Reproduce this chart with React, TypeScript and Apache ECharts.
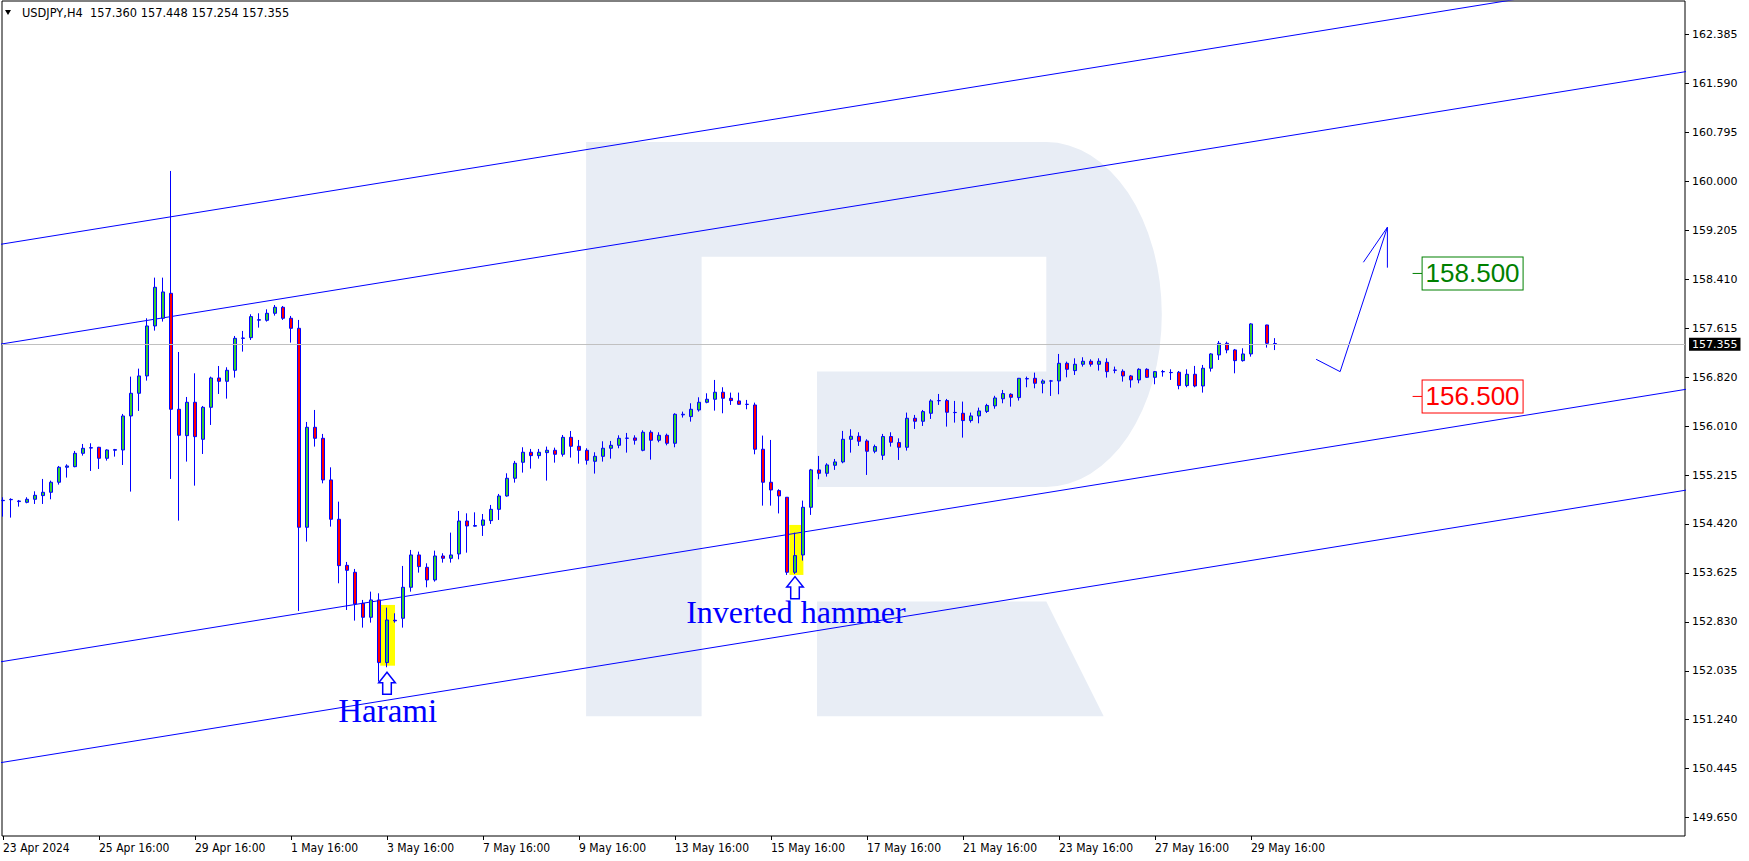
import React, { useEffect, useRef } from "react";
import * as echarts from "echarts";

// ---------------- data ----------------
const symbolName = "USDJPY,H4";
const titleValues = ["157.360", "157.448", "157.254", "157.355"];
const lastPrice = 157.355;

// H4 bars, index 0 = 23 Apr 2024 16:00 (bar 157 is absent in the picture)
const opens = [
  154.805, 154.820, 154.800, 154.778, 154.827, 154.887, 154.941, 155.104, 155.348, 155.358,
  155.575, 155.660, 155.673, 155.494, 155.625, 155.629, 156.182, 156.551, 156.833, 157.646,
  157.771, 158.177, 156.291, 155.862, 156.405, 155.803, 156.323, 156.800, 156.746, 156.925,
  157.445, 157.456, 157.740, 157.738, 157.852, 157.950, 157.771, 157.608, 154.372, 155.998,
  155.819, 155.142, 154.502, 153.753, 153.640, 153.135, 152.908, 153.190, 152.171, 152.860,
  152.892, 153.396, 153.922, 153.721, 153.515, 153.905, 153.867, 153.938, 154.474, 154.390,
  154.404, 154.480, 154.664, 154.881, 155.169, 155.429, 155.592, 155.537, 155.586, 155.624,
  155.559, 155.835, 155.689, 155.624, 155.445, 155.526, 155.657, 155.705, 155.819, 155.825,
  155.624, 155.917, 155.787, 155.868, 155.738, 156.200, 156.172, 156.280, 156.405, 156.454,
  156.568, 156.470, 156.427, 156.370, 156.361, 155.641, 155.104, 154.968, 154.860, 153.640,
  153.922, 154.697, 155.305, 155.250, 155.380, 155.435, 155.803, 155.852, 155.776, 155.608,
  155.543, 155.847, 155.749, 155.673, 156.145, 156.096, 156.226, 156.430, 156.432, 156.240,
  156.226, 156.107, 156.183, 156.256, 156.346, 156.462, 156.535, 156.481, 156.785, 156.795,
  156.714, 156.752, 156.752, 157.039, 156.920, 157.023, 157.072, 157.023, 157.055, 156.930,
  156.909, 156.833, 156.768, 156.941, 156.811, 156.900, 156.890, 156.893, 156.676, 156.860,
  156.670, 156.958, 157.175, 157.364, 157.256, 157.082, 157.191, null, 157.662, 157.360,
];
const closes = [
  154.810, 154.825, 154.790, 154.827, 154.892, 154.941, 155.104, 155.348, 155.369, 155.575,
  155.656, 155.667, 155.494, 155.629, 155.635, 156.182, 156.551, 156.833, 157.646, 158.275,
  158.199, 156.291, 155.868, 156.405, 155.846, 156.323, 156.800, 156.746, 156.925, 157.445,
  157.450, 157.798, 157.748, 157.852, 157.950, 157.771, 157.608, 154.372, 155.998, 155.819,
  155.142, 154.502, 153.748, 153.672, 153.125, 152.908, 153.190, 152.171, 152.864, 152.850,
  153.396, 153.922, 153.732, 153.515, 153.905, 153.867, 153.922, 154.474, 154.393, 154.400,
  154.491, 154.664, 154.881, 155.169, 155.413, 155.592, 155.537, 155.592, 155.624, 155.559,
  155.835, 155.689, 155.624, 155.461, 155.526, 155.657, 155.705, 155.819, 155.822, 155.787,
  155.917, 155.787, 155.868, 155.738, 156.210, 156.210, 156.291, 156.405, 156.454, 156.568,
  156.470, 156.432, 156.372, 156.372, 155.641, 155.104, 154.979, 154.882, 153.640, 153.911,
  154.697, 155.305, 155.250, 155.386, 155.435, 155.803, 155.852, 155.771, 155.608, 155.684,
  155.847, 155.754, 155.673, 156.145, 156.096, 156.253, 156.427, 156.432, 156.242, 156.237,
  156.107, 156.183, 156.264, 156.353, 156.475, 156.546, 156.486, 156.795, 156.790, 156.714,
  156.752, 156.750, 157.039, 156.941, 157.023, 157.072, 157.023, 157.072, 156.903, 156.925,
  156.833, 156.768, 156.941, 156.811, 156.903, 156.905, 156.887, 156.676, 156.860, 156.670,
  156.958, 157.191, 157.364, 157.256, 157.082, 157.191, 157.679, null, 157.364, 157.355,
];
const lows = [
  154.545, 154.529, 154.708, 154.762, 154.751, 154.751, 154.827, 155.066, 155.180, 155.348,
  155.537, 155.288, 155.320, 155.456, 155.521, 155.385, 154.952, 156.264, 156.757, 157.570,
  157.717, 155.158, 154.480, 155.440, 155.049, 155.564, 156.036, 156.540, 156.464, 156.806,
  157.229, 157.418, 157.619, 157.717, 157.814, 157.744, 157.375, 153.011, 154.139, 155.684,
  155.087, 154.383, 153.461, 153.027, 152.854, 152.740, 152.821, 151.862, 152.095, 152.821,
  152.740, 153.325, 153.634, 153.396, 153.488, 153.797, 153.797, 153.851, 153.959, 154.382,
  154.231, 154.426, 154.491, 154.870, 155.098, 155.261, 155.326, 155.488, 155.131, 155.423,
  155.521, 155.505, 155.407, 155.391, 155.245, 155.440, 155.488, 155.657, 155.586, 155.716,
  155.608, 155.472, 155.754, 155.705, 155.673, 156.156, 156.090, 156.253, 156.389, 156.269,
  156.226, 156.362, 156.362, 156.291, 155.559, 154.724, 154.724, 154.597, 153.597, 153.613,
  153.830, 154.573, 155.153, 155.196, 155.305, 155.413, 155.586, 155.695, 155.223, 155.576,
  155.467, 155.684, 155.467, 155.619, 155.971, 156.020, 156.134, 156.362, 156.009, 156.074,
  155.830, 156.074, 156.063, 156.230, 156.300, 156.389, 156.334, 156.432, 156.649, 156.632,
  156.551, 156.508, 156.535, 156.811, 156.849, 156.985, 156.985, 156.920, 156.806, 156.876,
  156.741, 156.643, 156.714, 156.800, 156.698, 156.822, 156.768, 156.616, 156.649, 156.649,
  156.562, 156.904, 157.093, 157.202, 156.876, 157.066, 157.147, null, 157.294, 157.254,
];
const highs = [
  154.860, 154.843, 154.816, 154.860, 154.957, 155.158, 155.131, 155.369, 155.396, 155.613,
  155.727, 155.738, 155.680, 155.640, 155.646, 156.215, 156.822, 156.952, 157.771, 158.432,
  158.432, 160.167, 157.223, 156.491, 156.876, 156.345, 156.822, 156.995, 156.974, 157.483,
  157.565, 157.836, 157.852, 157.917, 157.987, 157.971, 157.809, 157.744, 156.085, 156.280,
  155.890, 155.347, 154.789, 153.808, 153.694, 153.190, 153.325, 153.298, 153.065, 152.973,
  153.743, 154.003, 153.976, 153.786, 153.992, 153.949, 154.285, 154.637, 154.599, 154.615,
  154.588, 154.735, 154.914, 155.250, 155.451, 155.673, 155.646, 155.646, 155.684, 155.667,
  155.873, 155.938, 155.792, 155.657, 155.592, 155.770, 155.776, 155.868, 155.906, 155.868,
  155.949, 155.949, 155.917, 155.895, 156.226, 156.253, 156.389, 156.486, 156.551, 156.768,
  156.649, 156.562, 156.562, 156.443, 156.399, 155.863, 155.792, 154.990, 154.862, 154.285,
  154.806, 155.321, 155.532, 155.413, 155.483, 155.939, 155.966, 155.917, 155.803, 155.716,
  155.890, 155.917, 155.819, 156.237, 156.199, 156.280, 156.454, 156.540, 156.459, 156.427,
  156.416, 156.237, 156.318, 156.380, 156.510, 156.605, 156.551, 156.800, 156.822, 156.887,
  156.779, 156.768, 157.191, 157.066, 157.120, 157.137, 157.104, 157.120, 157.120, 156.985,
  156.941, 156.849, 156.958, 156.958, 156.914, 156.931, 156.941, 156.914, 156.941, 156.996,
  157.012, 157.202, 157.402, 157.391, 157.272, 157.283, 157.690, null, 157.665, 157.448,
];

const xTickLabels = [
  "23 Apr 2024", "25 Apr 16:00", "29 Apr 16:00", "1 May 16:00", "3 May 16:00",
  "7 May 16:00", "9 May 16:00", "13 May 16:00", "15 May 16:00", "17 May 16:00",
  "21 May 16:00", "23 May 16:00", "27 May 16:00", "29 May 16:00",
];
const barsPerTick = 12;

const yTickLabels = [
  "162.385", "161.590", "160.795", "160.000", "159.205", "158.410", "157.615", "156.820",
  "156.010", "155.215", "154.420", "153.625", "152.830", "152.035", "151.240", "150.445", "149.650",
];
const yTopTick = 162.385;
const yBottomTick = 149.65;
const yMax = 162.931;
const yMin = 149.351;
const xMin = -0.125;
const xMax = 210.25;

// channel lines: [barIndex, price] end points
const channelLines = [
  [[-1, 158.959], [211, 163.419]],
  [[-1, 157.336], [211, 161.796]],
  [[-1, 152.169], [211, 156.629]],
  [[-1, 150.529], [211, 154.989]],
];
const forecastPath = [[164.14, 157.104], [167.14, 156.903], [173.05, 159.251]];
const forecastHead = [[170.05, 158.682], [173.05, 159.251], [173.05, 158.594]];

const levels = [
  { price: 158.5, label: "158.500", color: "#008000" },
  { price: 156.5, label: "156.500", color: "#FF0000" },
];
const levelBar = 176.2;

const patterns = [
  { name: "Harami", x0: 47.15, x1: 49.0, low: 152.121, high: 153.109, arrowBar: 48, arrowPrice: 152.014, textBar: 41.9, textPrice: 151.381, fontSize: 33 },
  { name: "Inverted hammer", x0: 98.3, x1: 100.05, low: 153.597, high: 154.41, arrowBar: 99, arrowPrice: 153.569, textBar: 85.4, textPrice: 152.987, fontSize: 32 },
];

// ---------------- watermark shape ----------------
const LOGO_PATH =
  "M586.1 142.1 H1046.3 A115.5 172.4 0 0 1 1046.3 486.9 H817 V371.5 H1046.3 V256.8 H701.6 V716.3 H586.1 Z " +
  "M817 601.6 H1046.3 L1103.7 716.3 H817 Z";
echarts.graphic.registerShape("logo", echarts.graphic.extendPath(LOGO_PATH, {}));

const AXIS_FONT = '"DejaVu Sans", sans-serif';
const X_FONT = '"DejaVu Sans Condensed", "Liberation Sans Narrow", sans-serif';

function buildOption() {
  const yStep = (yTopTick - yBottomTick) / (yTickLabels.length - 1);
  const yTicks = yTickLabels.map((_, k) => +(yTopTick - k * yStep).toFixed(6));
  const xTicks = xTickLabels.map((_, k) => k * barsPerTick);

  const candleData = opens
    .map((o, i) => (o == null ? null : [i, o, closes[i], lows[i], highs[i]]))
    .filter((d) => d !== null);

  const lineBase = {
    type: "line",
    symbol: "none",
    showSymbol: false,
    silent: true,
    clip: true,
    z: 2,
    lineStyle: { color: "#0000FF", width: 1 },
  };

  const series: any[] = [
    {
      type: "candlestick",
      z: 3,
      silent: true,
      barWidth: 4,
      clip: true,
      encode: { x: 0, y: [1, 2, 3, 4] },
      data: candleData,
      itemStyle: {
        color: "#32CD32",
        color0: "#FF0000",
        borderColor: "#0000FF",
        borderColor0: "#0000FF",
        borderColorDoji: "#0000FF",
        borderWidth: 1,
      },
    },
  ];
  channelLines.forEach((pts, k) => {
    const s: any = { ...lineBase, data: pts };
    if (k === 0) {
      s.markArea = {
        silent: true,
        itemStyle: { color: "#FFFF00", opacity: 1 },
        label: { show: false },
        data: patterns.map((p) => [{ coord: [p.x0, p.high] }, { coord: [p.x1, p.low] }]),
      };
      s.markLine = {
        silent: true,
        symbol: ["none", "none"],
        lineStyle: { color: "#C0C0C0", width: 1, type: "solid" },
        label: {
          show: true,
          position: "end",
          distance: 4,
          formatter: lastPrice.toFixed(3),
          color: "#FFFFFF",
          backgroundColor: "#000000",
          padding: [1, 3, 1, 3],
          fontFamily: AXIS_FONT,
          fontSize: 11,
        },
        data: [{ yAxis: lastPrice }],
      };
    }
    series.push(s);
  });
  series.push({ ...lineBase, data: forecastPath });
  series.push({ ...lineBase, data: forecastHead });

  return {
    animation: false,
    backgroundColor: "#FFFFFF",
    grid: {
      left: 2,
      right: 64,
      top: 1,
      bottom: 25,
      show: true,
      borderColor: "#000000",
      borderWidth: 1,
      backgroundColor: "transparent",
      outerBoundsMode: "none",
    },
    xAxis: {
      type: "value",
      min: xMin,
      max: xMax,
      axisLine: { show: false, onZero: false },
      splitLine: { show: false },
      axisTick: { show: true, customValues: xTicks, length: 4, lineStyle: { color: "#000" } },
      axisLabel: {
        customValues: xTicks,
        formatter: (v: number) => xTickLabels[Math.round(v / barsPerTick)] ?? "",
        align: "left",
        verticalAlign: "top",
        margin: 6,
        color: "#000",
        fontFamily: X_FONT,
        fontSize: 12,
      },
    },
    yAxis: {
      type: "value",
      position: "right",
      min: yMin,
      max: yMax,
      axisLine: { show: false, onZero: false },
      splitLine: { show: false },
      axisTick: { show: true, customValues: yTicks, length: 4, lineStyle: { color: "#000" } },
      axisLabel: {
        customValues: yTicks,
        formatter: (v: number) => yTickLabels[Math.round((yTopTick - v) / yStep)] ?? "",
        margin: 7,
        color: "#000",
        fontFamily: AXIS_FONT,
        fontSize: 11,
      },
    },
    series,
  };
}

function buildGraphics(chart: any) {
  const px = (x: number, y: number) => chart.convertToPixel({ gridIndex: 0 }, [x, y]);
  const els: any[] = [
    { type: "logo", x: 0, y: 0, z: -1, silent: true, style: { fill: "#E8EDF5" } },
    { type: "polygon", silent: true, shape: { points: [[5, 10], [11, 10], [8, 15]] }, style: { fill: "#000" } },
    {
      type: "text",
      x: 22,
      y: 13,
      silent: true,
      style: {
        text: symbolName + "  " + titleValues.join(" "),
        font: '11.4px "DejaVu Sans"',
        fill: "#000",
        verticalAlign: "middle",
        align: "left",
      },
    },
  ];
  patterns.forEach((p) => {
    const [tx, ty] = px(p.arrowBar, p.arrowPrice);
    els.push({
      type: "polygon",
      silent: true,
      z: 10,
      shape: {
        points: [
          [tx, ty], [tx + 8.3, ty + 10.4], [tx + 4.3, ty + 10.4], [tx + 4.3, ty + 22],
          [tx - 4.3, ty + 22], [tx - 4.3, ty + 10.4], [tx - 8.3, ty + 10.4],
        ],
      },
      style: { fill: "#FFFFFF", stroke: "#0000FF", lineWidth: 1.5 },
    });
    const [lx, ly] = px(p.textBar, p.textPrice);
    els.push({
      type: "text",
      x: lx,
      y: ly,
      silent: true,
      z: 10,
      style: {
        text: p.name,
        font: p.fontSize + 'px "Liberation Serif", serif',
        fill: "#0000FF",
        align: "left",
        verticalAlign: "middle",
      },
    });
  });
  levels.forEach((lv) => {
    const [ax, ay] = px(levelBar, lv.price);
    els.push({
      type: "line",
      silent: true,
      z: 10,
      shape: { x1: ax, y1: ay, x2: ax + 10, y2: ay },
      style: { stroke: lv.color, lineWidth: 1 },
    });
    els.push({
      type: "text",
      x: ax + 10,
      y: ay,
      silent: true,
      z: 10,
      style: {
        text: lv.label,
        font: '26px "Liberation Sans", sans-serif',
        fill: lv.color,
        align: "left",
        verticalAlign: "middle",
        backgroundColor: "#FFFFFF",
        borderColor: lv.color,
        borderWidth: 1,
        padding: [2, 3, 2, 3],
        lineHeight: 28,
      },
    });
  });
  return els;
}

export default function App() {
  const ref = useRef<HTMLDivElement>(null);
  useEffect(() => {
    document.body.style.margin = "0";
    const chart = echarts.init(ref.current!, null, { renderer: "svg", width: 1749, height: 861 });
    chart.setOption(buildOption() as any);
    chart.setOption({ graphic: { elements: buildGraphics(chart) } } as any);
    return () => chart.dispose();
  }, []);
  return <div ref={ref} style={{ width: 1749, height: 861 }} />;
}
